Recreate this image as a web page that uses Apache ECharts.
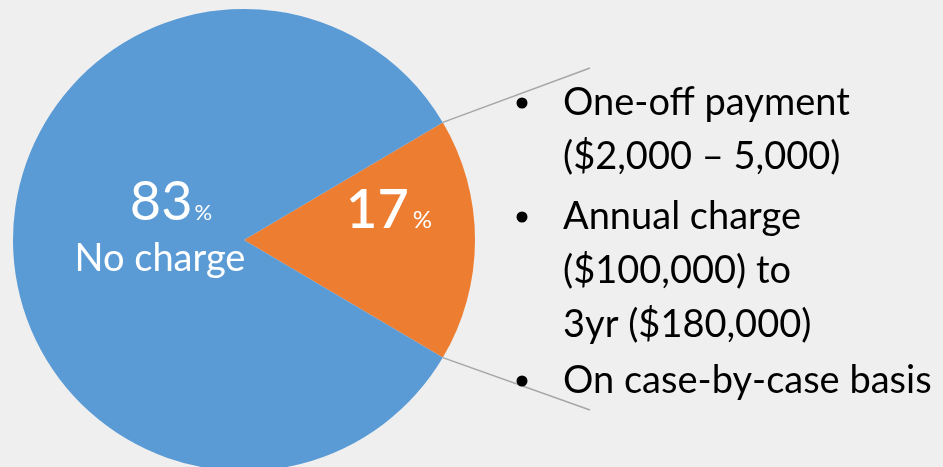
<!DOCTYPE html>
<html><head><meta charset="utf-8">
<script src="https://cdn.jsdelivr.net/npm/echarts@6/dist/echarts.min.js"></script>
<style>html,body{margin:0;padding:0;background:#efefef}#c{width:943px;height:467px}</style>
</head><body><div id="c"></div>
<script>
const categories = ['Charge', 'No charge'];
const values = [17, 83];
const colors = ['#ED7D31', '#5B9BD5'];
const bulletItems = [
  ['One-off payment', '($2,000 – 5,000)'],
  ['Annual charge', '($100,000) to', '3yr ($180,000)'],
  ['On case-by-case basis']
];

const chart = echarts.init(document.getElementById('c'));
const cx = 244, cy = 240, R = 231;
const total = values.reduce((a, b) => a + b, 0);
const half = values[0] / total * 180;
const startAngle = half;
const font = 'Lato, "Open Sans", sans-serif';

const graphics = [];
const a = half * Math.PI / 180;
const p1 = [cx + R * Math.cos(a), cy - R * Math.sin(a)];
const p2 = [cx + R * Math.cos(a), cy + R * Math.sin(a)];
graphics.push({type: 'line', shape: {x1: p1[0], y1: p1[1], x2: 590, y2: 68}, style: {stroke: '#a6a6a6', lineWidth: 1.5}, z: 10});
graphics.push({type: 'line', shape: {x1: p2[0], y1: p2[1], x2: 590, y2: 410}, style: {stroke: '#a6a6a6', lineWidth: 1.5}, z: 10});

const itemTops = [103, 217, 381];
const lh = 54;
bulletItems.forEach((lines, i) => {
  graphics.push({type: 'circle', shape: {cx: 522, cy: itemTops[i], r: 5.5}, style: {fill: '#000'}, z: 11});
  lines.forEach((t, j) => {
    graphics.push({type: 'text', x: 563, y: itemTops[i] + j * lh, z: 11,
      style: {text: t, font: '38px ' + font, fill: '#000', textVerticalAlign: 'middle', textAlign: 'left'}});
  });
});

graphics.push({type: 'text', x: 171, y: 203, z: 11, style: {
  text: '{big|' + values[1] + '}{pct|%}', textAlign: 'center', textVerticalAlign: 'middle',
  rich: {big: {fontSize: 54, fontFamily: font, fill: '#fff', verticalAlign: 'bottom'},
         pct: {fontSize: 22, fontFamily: font, fill: '#fff', verticalAlign: 'bottom', padding: [0,0,6,2]}}}});
graphics.push({type: 'text', x: 160, y: 259, z: 11, style: {
  text: categories[1], font: '38px ' + font, fill: '#fff', textAlign: 'center', textVerticalAlign: 'middle'}});
graphics.push({type: 'text', x: 389, y: 211, z: 11, style: {
  text: '{big|' + values[0] + '}{pct|%}', textAlign: 'center', textVerticalAlign: 'middle',
  rich: {big: {fontSize: 54, fontFamily: font, fontWeight: 600, fill: '#fff', verticalAlign: 'bottom'},
         pct: {fontSize: 24, fontFamily: font, fill: '#fff', verticalAlign: 'bottom', padding: [0,0,6,4]}}}});

chart.setOption({
  backgroundColor: '#efefef',
  animation: false,
  series: [{
    type: 'pie',
    center: [cx, cy],
    radius: [0, R],
    startAngle: startAngle,
    clockwise: true,
    label: {show: false},
    labelLine: {show: false},
    itemStyle: {borderWidth: 0},
    emphasis: {disabled: true},
    data: categories.map((c, i) => ({name: c, value: values[i], itemStyle: {color: colors[i]}}))
  }],
  graphic: graphics
});
</script></body></html>
